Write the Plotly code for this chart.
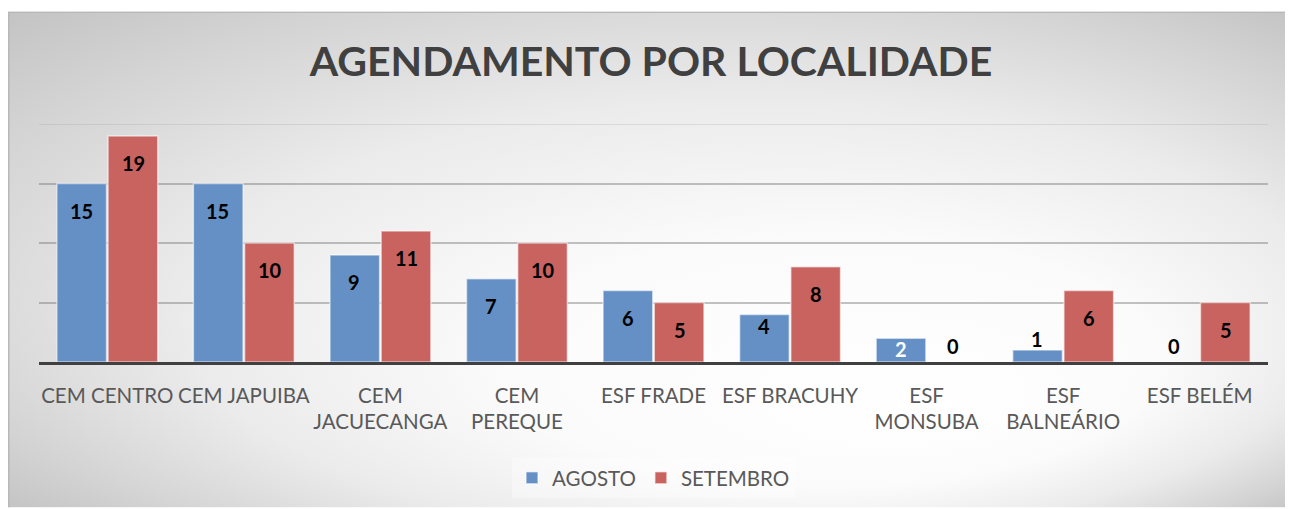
import base64
import plotly.graph_objects as go

localidades = [
    "CEM CENTRO", "CEM JAPUIBA", "CEM<br>JACUECANGA", "CEM<br>PEREQUE",
    "ESF FRADE", "ESF BRACUHY", "ESF<br>MONSUBA", "ESF<br>BALNEÁRIO", "ESF BELÉM",
]
agosto = [15, 15, 9, 7, 6, 4, 2, 1, 0]
setembro = [19, 10, 11, 10, 5, 8, 0, 6, 5]

BLUE = "rgb(100,144,197)"
RED = "rgb(200,99,96)"
FONT = "Lato"

# page has an 8px body margin, so the figure is 8px smaller than the window
W, H = 1285, 501
ML, MR, MT, MB = 31, 25, 116, 146
PW, PH = W - ML - MR, H - MT - MB

# excel-like radial background
svg = (
    '<svg xmlns="http://www.w3.org/2000/svg" width="1285" height="498" preserveAspectRatio="none">'
    '<defs><radialGradient id="g" cx="0.5" cy="0.5" r="0.72" fx="0.72" fy="0.82">'
    '<stop offset="0" stop-color="#ffffff"/><stop offset="0.35" stop-color="#fbfbfb"/>'
    '<stop offset="0.62" stop-color="#ebebeb"/><stop offset="0.85" stop-color="#d3d3d3"/>'
    '<stop offset="1" stop-color="#c2c2c2"/></radialGradient></defs>'
    '<rect width="1285" height="498" fill="url(#g)"/>'
    '<path d="M0.75,498 V0.75 H1285" fill="none" stroke="#b8b8b8" stroke-width="1.5"/>'
    '</svg>'
)
bg_src = "data:image/svg+xml;base64," + base64.b64encode(svg.encode()).decode()


def label_offset(v):
    # where excel put the value labels
    if v >= 5:
        return -27, "#000000"
    if v >= 3:
        return -12, "#000000"
    if v == 2:
        return -11, "#ffffff"
    if v == 1:
        return 11, "#000000"
    return 16, "#000000"


fig = go.Figure()
fig.add_trace(go.Bar(x=localidades, y=agosto, name="AGOSTO",
                     marker=dict(color=BLUE, line=dict(color="rgba(255,255,255,0.55)", width=1.5))))
fig.add_trace(go.Bar(x=localidades, y=setembro, name="SETEMBRO",
                     marker=dict(color=RED, line=dict(color="rgba(255,255,255,0.55)", width=1.5))))

annotations = []
for vals, dx in ((agosto, -26), (setembro, 26)):
    for cat, v in zip(localidades, vals):
        dy, col = label_offset(v)
        annotations.append(dict(
            x=cat, y=v, xref="x", yref="y", text=str(v), showarrow=False,
            xshift=dx, yshift=dy, yanchor="middle",
            font=dict(family=FONT, size=20, color=col, weight="bold"),
        ))

fig.update_layout(
    width=W, height=H,
    margin=dict(l=ML, r=MR, t=MT, b=MB),
    paper_bgcolor="white",
    plot_bgcolor="rgba(0,0,0,0)",
    barmode="group",
    bargap=0.25,
    bargroupgap=0.03,
    title=dict(
        text="AGENDAMENTO POR LOCALIDADE",
        x=643 / W, xref="container", xanchor="center",
        y=1 - 54 / H, yref="container", yanchor="middle",
        font=dict(family=FONT, size=41, color="#404040", weight="bold"),
    ),
    xaxis=dict(
        showline=True, linecolor="#404040", linewidth=3,
        ticks="", ticklabelstandoff=13, showgrid=False,
        tickfont=dict(family=FONT, size=20.5, color="#595959"),
    ),
    yaxis=dict(
        range=[0, 20], tickvals=[5, 10, 15], showticklabels=False,
        gridcolor="rgba(120,120,120,0.45)", gridwidth=1.5, zeroline=False,
    ),
    shapes=[dict(type="line", xref="paper", yref="y", x0=0, x1=1, y0=20, y1=20,
                 line=dict(color="rgba(150,150,150,0.3)", width=1.5), layer="below")],
    legend=dict(
        orientation="h", x=0.5, xanchor="center",
        y=(355 - 470) / PH, yanchor="middle",
        font=dict(family=FONT, size=20.5, color="#595959"),
        bgcolor="rgba(255,255,255,0.35)",
        itemclick=False,
    ),
    images=[dict(
        source=bg_src, xref="paper", yref="paper",
        x=-ML / PW, y=(H - 3 - MB) / PH,
        sizex=W / PW, sizey=(H - 3) / PH,
        xanchor="left", yanchor="top", sizing="stretch", layer="below",
    )],
    annotations=annotations,
    showlegend=True,
)

# the chart runs to the window edge; keep the page from growing scrollbars
fig.write_html("out.html", post_script="document.documentElement.style.overflow='hidden';")
